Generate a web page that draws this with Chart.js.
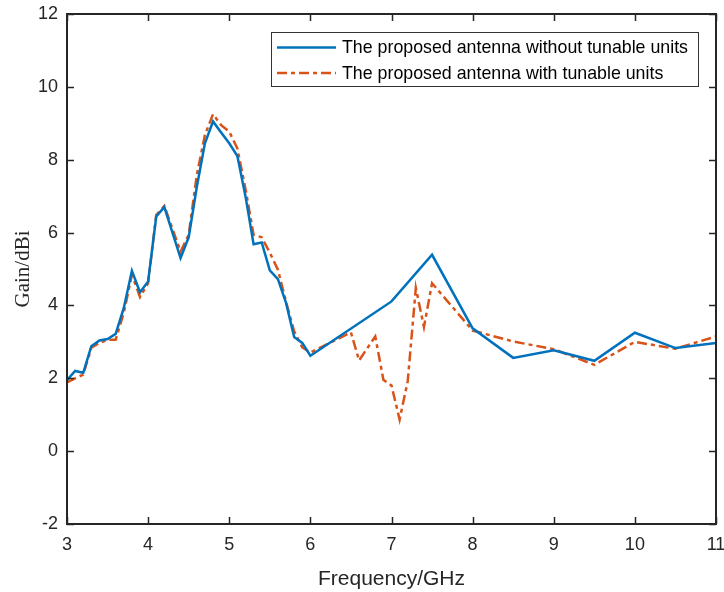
<!DOCTYPE html>
<html>
<head>
<meta charset="utf-8">
<script src="https://cdn.jsdelivr.net/npm/chart.js@4"></script>
<style>
  html, body { margin: 0; padding: 0; background: #fff; }
  #wrap { width: 724px; height: 592px; }
</style>
</head>
<body>
<div id="wrap"><canvas id="myChart" width="724" height="592"></canvas></div>
<script>
// frequencies (GHz) and gain (dBi)
const freqWithout = [3.0, 3.1, 3.2, 3.3, 3.4, 3.5, 3.6, 3.7, 3.8, 3.9, 4.0, 4.1, 4.2, 4.3, 4.4, 4.5, 4.6, 4.7, 4.8, 4.9, 5.0, 5.1, 5.2, 5.3, 5.4, 5.5, 5.6, 5.7, 5.8, 5.9, 6.0, 7.0, 7.5, 8.0, 8.5, 9.0, 9.5, 10.0, 10.5, 11.0];
const gainWithout = [1.95, 2.2, 2.15, 2.88, 3.04, 3.08, 3.22, 3.93, 4.95, 4.36, 4.66, 6.44, 6.7, 6.0, 5.3, 5.87, 7.25, 8.45, 9.05, 8.75, 8.45, 8.1, 7.0, 5.68, 5.73, 4.96, 4.72, 4.07, 3.13, 2.97, 2.62, 4.11, 5.39, 3.37, 2.56, 2.77, 2.48, 3.25, 2.83, 2.97];

const freqWith = [3.0, 3.1, 3.2, 3.3, 3.4, 3.5, 3.6, 3.7, 3.8, 3.9, 4.0, 4.1, 4.2, 4.3, 4.4, 4.5, 4.6, 4.7, 4.8, 4.9, 5.0, 5.1, 5.2, 5.3, 5.4, 5.5, 5.6, 5.7, 5.8, 5.9, 6.0, 6.5, 6.6, 6.8, 6.9, 7.0, 7.1, 7.2, 7.3, 7.4, 7.5, 8.0, 8.5, 9.0, 9.5, 10.0, 10.5, 11.0];
const gainWith = [1.89, 2.0, 2.1, 2.84, 2.97, 3.06, 3.06, 3.8, 4.84, 4.23, 4.61, 6.48, 6.73, 6.1, 5.48, 5.94, 7.58, 8.68, 9.25, 8.95, 8.77, 8.31, 7.2, 5.94, 5.87, 5.45, 4.98, 4.1, 3.29, 2.85, 2.71, 3.26, 2.49, 3.15, 1.96, 1.8, 0.87, 1.92, 4.48, 3.41, 4.61, 3.31, 3.01, 2.8, 2.37, 3.0, 2.81, 3.15];

const xTicks = [3, 4, 5, 6, 7, 8, 9, 10, 11];
const yTicks = [-2, 0, 2, 4, 6, 8, 10, 12];

const seriesNames = ['The proposed antenna without tunable units', 'The proposed antenna with tunable units'];
const blue = '#0072BD';
const orange = '#D95319';
const dashDot = [10, 4, 4, 4];

function toPoints(xs, ys) {
    return xs.map((x, i) => ({x: x, y: ys[i]}));
}

// box around the axes with inward ticks, MATLAB style
const boxPlugin = {
    id: 'boxPlugin',
    afterDraw(chart) {
        const ctx = chart.ctx;
        const a = chart.chartArea;
        const xs = chart.scales.x;
        const ys = chart.scales.y;
        ctx.save();
        ctx.strokeStyle = '#262626';
        ctx.lineWidth = 2;
        ctx.strokeRect(a.left, a.top, a.right - a.left, a.bottom - a.top);
        ctx.lineWidth = 1.5;
        ctx.beginPath();
        xTicks.forEach(v => {
            const px = Math.round(xs.getPixelForValue(v)) + 0.5;
            ctx.moveTo(px, a.bottom); ctx.lineTo(px, a.bottom - 7);
            ctx.moveTo(px, a.top); ctx.lineTo(px, a.top + 7);
        });
        yTicks.forEach(v => {
            const py = Math.round(ys.getPixelForValue(v)) + 0.5;
            ctx.moveTo(a.left, py); ctx.lineTo(a.left + 7, py);
            ctx.moveTo(a.right, py); ctx.lineTo(a.right - 7, py);
        });
        ctx.stroke();

        // legend box
        const lx = 271, ly = 32, lw = 427, lh = 54;
        ctx.fillStyle = '#fff';
        ctx.fillRect(lx, ly, lw, lh);
        ctx.strokeStyle = '#333';
        ctx.lineWidth = 1;
        ctx.strokeRect(lx + 0.5, ly + 0.5, lw, lh);
        const rows = [
            {y: 47.5, color: blue, dash: []},
            {y: 73, color: orange, dash: dashDot}
        ];
        ctx.font = '17.8px "Liberation Sans", Arial, sans-serif';
        ctx.textBaseline = 'middle';
        rows.forEach((r, i) => {
            ctx.strokeStyle = r.color;
            ctx.lineWidth = 2.5;
            ctx.setLineDash(r.dash);
            ctx.beginPath();
            ctx.moveTo(277, r.y); ctx.lineTo(336, r.y);
            ctx.stroke();
            ctx.setLineDash([]);
            ctx.fillStyle = '#000';
            ctx.fillText(seriesNames[i], 342, r.y + 1);
        });
        ctx.restore();
    }
};

const ctx = document.getElementById('myChart').getContext('2d');
const myChart = new Chart(ctx, {
    type: 'scatter',
    data: {
        datasets: [{
            label: seriesNames[0],
            data: toPoints(freqWithout, gainWithout),
            showLine: true,
            borderColor: blue,
            backgroundColor: blue,
            borderWidth: 2.5,
            pointRadius: 0,
            fill: false
        }, {
            label: seriesNames[1],
            data: toPoints(freqWith, gainWith),
            showLine: true,
            borderColor: orange,
            backgroundColor: orange,
            borderWidth: 2.5,
            borderDash: dashDot,
            pointRadius: 0,
            fill: false
        }]
    },
    options: {
        responsive: false,
        animation: false,
        layout: { padding: { top: 14, right: 8, left: 0, bottom: 0 } },
        plugins: {
            legend: { display: false },
            tooltip: { enabled: false }
        },
        scales: {
            x: {
                type: 'linear',
                position: 'bottom',
                min: 3,
                max: 11,
                afterBuildTicks: s => { s.ticks = xTicks.map(v => ({value: v})); },
                afterFit: s => { s.height = 68; s.paddingLeft = 0; s.paddingRight = 0; },
                grid: { display: false, drawTicks: false },
                border: { display: false },
                ticks: {
                    color: '#262626',
                    padding: 10,
                    maxRotation: 0,
                    font: { family: '"Liberation Sans", Arial, sans-serif', size: 18 }
                },
                title: {
                    display: true,
                    text: 'Frequency/GHz',
                    color: '#262626',
                    padding: { top: 4, bottom: 0 },
                    font: { family: '"Liberation Sans", Arial, sans-serif', size: 21 }
                }
            },
            y: {
                min: -2,
                max: 12,
                afterBuildTicks: s => { s.ticks = yTicks.map(v => ({value: v})); },
                afterFit: s => { s.width = 67; s.paddingTop = 0; s.paddingBottom = 0; },
                grid: { display: false, drawTicks: false },
                border: { display: false },
                ticks: {
                    color: '#262626',
                    padding: 9,
                    font: { family: '"Liberation Sans", Arial, sans-serif', size: 18 }
                },
                title: {
                    display: true,
                    text: 'Gain/dBi',
                    color: '#262626',
                    padding: { top: 11, bottom: 4 },
                    font: { family: '"Liberation Serif", "Times New Roman", serif', size: 21 }
                }
            }
        }
    },
    plugins: [boxPlugin]
});
</script>
</body>
</html>
